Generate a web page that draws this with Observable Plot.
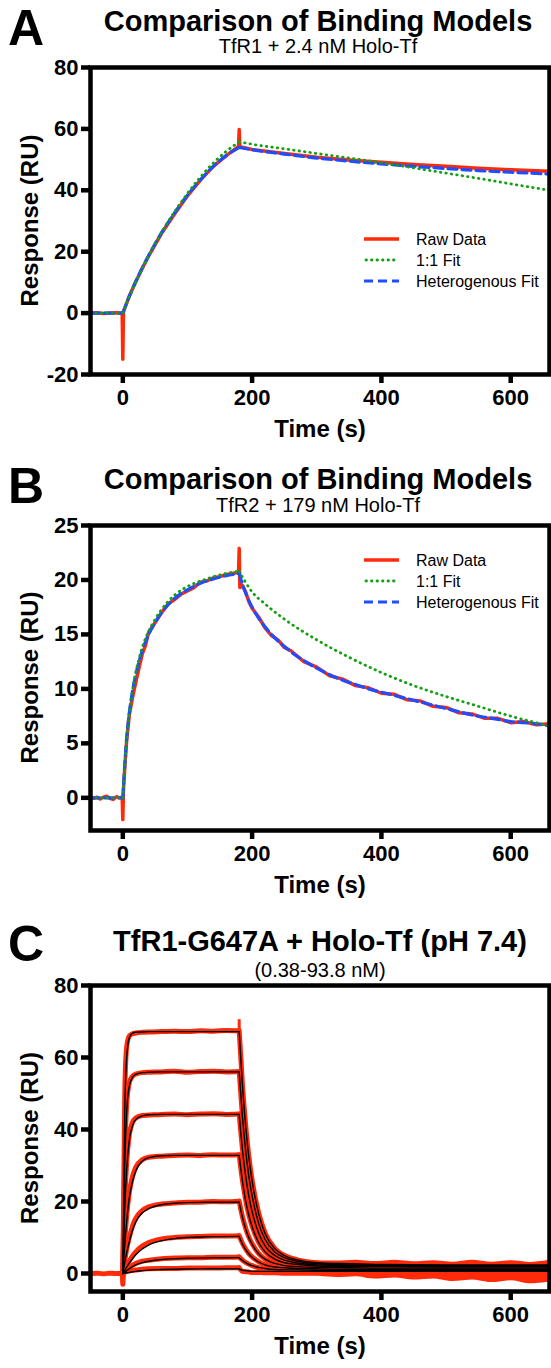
<!DOCTYPE html>
<html><head><meta charset="utf-8">
<script src="https://cdn.jsdelivr.net/npm/d3@7"></script>
<script src="https://cdn.jsdelivr.net/npm/@observablehq/plot@0.6"></script>
<style>
html,body{margin:0;padding:0;background:#fff;}
#root{position:relative;width:551px;height:1368px;overflow:hidden;font-family:"Liberation Sans",Arial,Helvetica,sans-serif;}
#overlay{position:absolute;left:0;top:0;pointer-events:none;}
</style></head><body><div id="root"></div>
<script>
// ---------- Panel A : TfR1 + 2.4 nM Holo-Tf ----------
const rawAT = [-50,-40,-30,-20,-10,-1,0,1,10,20,30,40,50,60,80,100,120,140,160,179,180,181,200,250,300,350,400,450,500,550,600,660];
const rawAV = [0,0.1,-0.1,0,0.1,0,-15,0.5,5.5,10.2,14.5,18.6,22.3,26,32.3,38.2,43.3,47.8,51.3,54.3,59.8,54.2,53.3,52.0,50.8,49.9,49.1,48.4,47.8,47.2,46.7,46.2];
const fitAT = [-50,0,10,20,30,40,50,60,80,100,120,140,160,180,200,250,300,350,400,450,500,550,600,660];
const hetAV = [0,0,5.5,10.3,14.7,18.8,22.6,26.2,32.6,38.4,43.4,47.8,51.3,54.0,53.2,51.8,50.5,49.5,48.6,47.8,47.1,46.4,45.9,45.3];
const oneAV = [0,0,5.3,10.1,14.5,18.7,22.6,26.3,33.0,39.0,44.3,48.9,52.7,55.8,55.0,53.5,52.0,50.5,49.0,47.3,45.6,43.9,42.1,40.0];
const yTicksA = [-20,0,20,40,60,80];

// ---------- Panel B : TfR2 + 179 nM Holo-Tf ----------
const rawBT = [-50,-45,-40,-35,-30,-25,-20,-15,-10,-5,-1,0,1,3,6,10,15,20,25,30,35,40,50,60,70,80,90,100,110,120,130,140,150,160,170,179,180,181,185,190,195,200,210,220,230,240,250,260,280,300,320,340,360,380,400,420,440,460,480,500,520,540,560,580,600,620,640,660];
const rawBV = [0.05,-0.05,0.05,-0.1,0.05,0.15,-0.05,-0.15,0.1,0,0.05,-2.0,0.8,2.8,5.3,7.6,9.2,10.6,11.9,13.2,14.0,15.2,16.1,17.0,17.8,18.2,18.7,19.0,19.3,19.8,19.9,20.2,20.3,20.5,20.6,20.7,22.9,19.3,19.5,18.9,18.0,17.4,16.6,15.6,14.9,14.5,13.8,13.5,12.5,12.0,11.2,10.9,10.3,10.1,9.6,9.5,9.0,8.9,8.4,8.3,7.8,7.7,7.3,7.3,6.9,7.0,6.7,6.8];
const hetBT = [-50,0,3,6,10,15,20,30,40,50,60,80,100,120,140,160,180,185,190,195,200,210,220,230,240,250,260,280,300,320,340,360,380,400,420,440,460,480,500,520,540,560,580,600,620,640,660];
const hetBV = [0,0,3.0,5.5,7.8,9.8,11.3,13.5,15.0,16.1,17.0,18.3,19.1,19.7,20.1,20.4,20.6,19.6,18.8,18.1,17.5,16.5,15.7,15.0,14.4,13.9,13.4,12.6,11.9,11.3,10.8,10.4,10.0,9.7,9.4,9.1,8.8,8.5,8.2,7.9,7.6,7.4,7.2,7.0,6.9,6.8,6.6];
const oneBT = [-50,0,3,6,10,15,20,30,40,50,60,80,100,120,140,160,180,200,220,250,300,350,400,450,500,550,600,660];
const oneBV = [0,0,2.9,5.4,7.7,9.9,11.5,13.8,15.3,16.4,17.3,18.6,19.4,19.9,20.3,20.6,20.8,18.9,17.8,16.4,14.5,12.9,11.5,10.3,9.3,8.4,7.5,6.6];
const yTicksB = [0,5,10,15,20,25];

// ---------- Panel C : TfR1-G647A + Holo-Tf (0.38-93.8 nM), 8 concentrations ----------
const cBaseT = [-50,-40,-30,-20,-10,-1,0,1];
const cBaseV = [0,0.1,-0.1,0.1,0,0,-3,0];
const cFitAssocT = [0,3,6,10,15,20,30,40,60,80,100,130,180];
const cFitAssoc = [
  [0,45,60,65.5,66.8,67.0,67.1,67.2,67.2,67.2,67.2,67.2,67.2],
  [0,30,45,52,54.5,55.3,55.8,55.9,56,56,56,56,56],
  [0,18,29,37,41,42.8,43.8,44.1,44.2,44.2,44.2,44.2,44.2],
  [0,8,14.5,21,25.5,28.5,31.2,32.2,32.7,32.8,32.8,32.8,32.8],
  [0,3,5.8,8.8,12,14.3,16.8,18.0,19.1,19.5,19.7,19.8,19.8],
  [0,0.9,1.8,2.9,4.1,5.2,6.8,7.9,9.1,9.7,10.0,10.2,10.3],
  [0,0.4,0.8,1.3,1.9,2.4,3.0,3.4,3.9,4.1,4.25,4.35,4.4],
  [0,0.1,0.2,0.3,0.45,0.6,0.8,0.95,1.1,1.2,1.25,1.3,1.3]
];
const cFitDissT = [180,185,190,195,200,210,220,235,250,270,300,350,400,500,660];
const cFitDiss = [
  [67.2,52.3,41.0,32.2,25.7,16.7,11.1,6.9,5.0,3.8,3.0,2.7,2.5,2.4,2.4],
  [56,43.6,34.2,26.9,21.6,14.0,9.5,6.0,4.4,3.4,2.7,2.4,2.3,2.2,2.2],
  [44.2,34.5,27.1,21.4,17.2,11.3,7.7,5.0,3.7,2.9,2.4,2.2,2.1,2.0,2.0],
  [32.8,25.7,20.2,16.1,13.0,8.6,6.0,4.0,3.0,2.5,2.1,1.9,1.9,1.8,1.8],
  [19.8,15.6,12.4,9.9,8.1,5.5,4.0,2.8,2.2,1.9,1.7,1.6,1.5,1.5,1.5],
  [10.3,8.2,6.6,5.4,4.5,3.2,2.4,1.8,1.6,1.4,1.3,1.2,1.2,1.2,1.2],
  [4.4,3.6,3.0,2.5,2.2,1.7,1.4,1.1,1.0,1.0,0.9,0.9,0.9,0.9,0.9],
  [1.3,0.9,0.8,0.7,0.6,0.6,0.6,0.6,0.6,0.6,0.6,0.6,0.6,0.6,0.6]
];
const cRawAssocT = [0,3,6,10,15,20,30,40,60,80,100,120,140,160,179];
const cRawAssoc = [
  [0,50,63,66,66.6,66.8,67.0,67.1,67.2,67.3,67.2,67.4,67.3,67.5,67.4],
  [0,33,47,53,54.8,55.4,55.8,55.9,56.0,56.2,55.9,56.1,56.2,56.0,56.1],
  [0,20,31,38.5,42,43.2,43.9,44.0,44.2,44.3,44.1,44.3,44.4,44.2,44.3],
  [0,9,16,22.5,27,29.5,31.6,32.3,32.6,32.8,32.9,32.8,33.0,32.9,33.0],
  [0,3.6,6.8,10,13.2,15.3,17.5,18.5,19.3,19.6,19.8,19.8,20.0,19.9,20.1],
  [0,1.2,2.3,3.5,4.9,6.0,7.6,8.6,9.6,10.0,10.2,10.3,10.4,10.4,10.5],
  [0,0.6,1.1,1.7,2.3,2.8,3.4,3.7,4.1,4.3,4.4,4.4,4.5,4.5,4.6],
  [0,0.3,0.5,0.7,0.9,1.0,1.2,1.3,1.4,1.4,1.5,1.5,1.5,1.6,1.6]
];
const cRawDissT = [180,185,190,195,200,210,220,235,250,270,300];
const cRawDiss = [
  [67.5,52.5,41.2,32.4,25.9,16.9,11.3,7.0,5.0,3.8,3.0],
  [56.1,43.8,34.4,27.1,21.8,14.2,9.6,6.1,4.4,3.4,2.7],
  [44.3,34.7,27.3,21.6,17.4,11.5,7.8,5.0,3.7,2.9,2.4],
  [33.0,25.9,20.4,16.3,13.2,8.7,6.1,4.0,3.0,2.4,2.0],
  [20.1,15.8,12.6,10.1,8.3,5.6,4.0,2.8,2.2,1.8,1.5],
  [10.5,8.4,6.8,5.5,4.6,3.3,2.4,1.7,1.4,1.2,1.0],
  [4.6,3.7,3.1,2.6,2.2,1.6,1.2,0.9,0.7,0.6,0.5],
  [1.6,0.6,0.5,0.4,0.3,0.3,0.2,0.2,0.1,0.1,0.1]
];
const cTailT = [300,330,360,390,420,450,480,510,540,570,600,630,660];
const cTail = [
  [3.0,2.9,3.1,2.8,3.1,2.7,3.0,2.6,3.1,2.6,3.0,2.5,3.1],
  [2.7,2.5,2.7,2.3,2.6,2.2,2.6,2.1,2.5,2.0,2.6,1.9,2.4],
  [2.4,2.1,2.3,1.9,2.2,1.7,2.1,1.6,2.0,1.5,1.9,1.3,1.8],
  [2.0,1.8,1.6,1.7,1.3,1.6,1.1,1.5,0.9,1.4,0.7,1.2,0.5],
  [1.5,1.2,1.3,0.9,1.1,0.6,1.0,0.3,0.8,0.1,0.6,-0.2,0.4],
  [1.0,0.6,0.8,0.2,0.5,-0.1,0.3,-0.5,0.0,-0.8,-0.2,-1.1,-0.4],
  [0.5,0.1,0.3,-0.3,0.0,-0.7,-0.2,-0.9,-0.5,-1.3,-0.6,-1.6,-1.0],
  [0.1,-0.3,-0.1,-0.7,-0.4,-1.0,-0.7,-1.4,-1.0,-1.7,-1.2,-2.0,-1.5]
];
const cSpikeT = [180];
const cSpikeLo = [66.5];
const cSpikeHi = [70.5];
const yTicksC = [0,20,40,60,80];

const xTicks = [0,200,400,600];
const legendLabels = ["Raw Data","1:1 Fit","Heterogenous Fit"];

// ---------- styling ----------
const RED = "#ff2a0a", GREEN = "#13a013", BLUE = "#1f4dff";
const FONT = '"Liberation Sans", Arial, Helvetica, sans-serif';
const W = 551, ML = 90, MR = 2, MT = 12, MB = 20;
const xDomain = [-50, 660];
const root = document.getElementById("root");

function pts(T, V, z) { return T.map((t, i) => ({t, v: V[i], z})); }
// split a fitted series into baseline / association / dissociation pieces (smooth curves, sharp corners)
function segs(T, V) {
  const bounds = [[-Infinity, 0], [0, 180], [180, Infinity]];
  const out = [];
  bounds.forEach(([lo, hi], k) => T.forEach((t, i) => { if (t >= lo && t <= hi) out.push({t, v: V[i], z: k}); }));
  return out;
}
const fmt = d => (d < 0 ? "-" + Math.abs(d) : String(d));

function panel(yDomain, yTicks, plotTop, plotBottom, marks) {
  const h = plotBottom - plotTop + MT + MB;
  const svg = Plot.plot({
    width: W, height: h,
    marginLeft: ML, marginRight: MR, marginTop: MT, marginBottom: MB,
    x: {domain: xDomain},
    y: {domain: yDomain},
    style: {fontFamily: FONT, fontSize: "22px", fontWeight: "bold", overflow: "visible", background: "transparent", color: "#000"},
    marks: [
      ...marks,
      Plot.frame({strokeWidth: 4.5}),
      Plot.axisY({ticks: yTicks, tickSize: 9, tickPadding: 3, strokeWidth: 4.5, tickFormat: fmt, label: null, fontWeight: "bold"}),
      Plot.axisX({ticks: xTicks, tickSize: 9, tickPadding: 6, strokeWidth: 4.5, tickFormat: fmt, label: null, fontWeight: "bold"})
    ]
  });
  svg.style.position = "absolute";
  svg.style.left = "0px";
  svg.style.top = (plotTop - MT) + "px";
  root.appendChild(svg);
}

const A = {top: 67, bottom: 374};
const B = {top: 525, bottom: 830};
const C = {top: 985, bottom: 1291};

function bindMarks(raw, het, one) {
  return [
    Plot.line(raw, {x: "t", y: "v", stroke: RED, strokeWidth: 3.5, strokeLinejoin: "round"}),
    Plot.line(het, {x: "t", y: "v", z: "z", stroke: BLUE, strokeWidth: 3.2, strokeDasharray: "9,5", curve: "monotone-x"}),
    Plot.line(one, {x: "t", y: "v", z: "z", stroke: GREEN, strokeWidth: 2.8, strokeDasharray: "0.5,5", strokeLinecap: "round", curve: "monotone-x"})
  ];
}

panel([-20, 80], yTicksA, A.top, A.bottom,
  bindMarks(pts(rawAT, rawAV, 0), segs(fitAT, hetAV), segs(fitAT, oneAV)));
panel([-3, 25], yTicksB, B.top, B.bottom,
  bindMarks(pts(rawBT, rawBV, 0), segs(hetBT, hetBV), segs(oneBT, oneBV)));

const cRawRows = [], cFitRows = [];
cRawAssoc.forEach((V, i) => cRawRows.push(...pts(cRawAssocT, V, "a" + i)));
cRawDiss.forEach((V, i) => cRawRows.push(...pts(cRawDissT, V, "d" + i)));
cTail.forEach((V, i) => cRawRows.push(...pts(cTailT, V, "t" + i)));
cFitAssoc.forEach((V, i) => cFitRows.push(...pts(cFitAssocT, V, "a" + i)));
cFitDiss.forEach((V, i) => cFitRows.push(...pts(cFitDissT, V, "d" + i)));
const cSpikes = cSpikeT.map((t, i) => ({t, lo: cSpikeLo[i], hi: cSpikeHi[i]}));

panel([-5, 80], yTicksC, C.top, C.bottom, [
  Plot.line(pts(cBaseT, cBaseV, 0), {x: "t", y: "v", stroke: RED, strokeWidth: 5}),
  Plot.line(cRawRows, {x: "t", y: "v", z: "z", stroke: RED, strokeWidth: 5, strokeLinejoin: "round", curve: "monotone-x"}),
  Plot.ruleX(cSpikes, {x: "t", y1: "lo", y2: "hi", stroke: RED, strokeWidth: 3}),
  Plot.line(cFitRows, {x: "t", y: "v", z: "z", stroke: "#000", strokeWidth: 1.4, curve: "monotone-x"})
]);

// ---------- titles, axis titles, legends ----------
const cx = 320;
function legend(y0) {
  const rows = [
    `<line x1="364" x2="399" y1="${y0}" y2="${y0}" stroke="${RED}" stroke-width="3.5"/>`,
    `<line x1="366" x2="399" y1="${y0 + 21}" y2="${y0 + 21}" stroke="${GREEN}" stroke-width="2.8" stroke-dasharray="0.5,5" stroke-linecap="round"/>`,
    `<line x1="364" x2="399" y1="${y0 + 42}" y2="${y0 + 42}" stroke="${BLUE}" stroke-width="3.2" stroke-dasharray="9,5"/>`
  ];
  legendLabels.forEach((s, i) => rows.push(`<text x="416" y="${y0 + 21 * i + 5.5}" font-size="16">${s}</text>`));
  return rows.join("");
}
function ylab(plot) {
  return `<text transform="translate(38,${(plot.top + plot.bottom) / 2}) rotate(-90)" text-anchor="middle" font-size="24" font-weight="bold">Response (RU)</text>`;
}
function xlab(plot) {
  return `<text x="${cx}" y="${plot.bottom + 63}" text-anchor="middle" font-size="24" font-weight="bold">Time (s)</text>`;
}
const ov = `
<svg id="overlay" width="551" height="1368" xmlns="http://www.w3.org/2000/svg" font-family='${FONT}' fill="#000">
  <text x="8" y="45" font-size="50" font-weight="bold">A</text>
  <text x="318" y="31" text-anchor="middle" font-size="29" font-weight="bold">Comparison of Binding Models</text>
  <text x="318" y="53" text-anchor="middle" font-size="20">TfR1 + 2.4 nM Holo-Tf</text>
  ${ylab(A)}${xlab(A)}${legend(239)}
  <text x="8" y="503" font-size="50" font-weight="bold">B</text>
  <text x="318" y="489" text-anchor="middle" font-size="29" font-weight="bold">Comparison of Binding Models</text>
  <text x="318" y="512" text-anchor="middle" font-size="20">TfR2 + 179 nM Holo-Tf</text>
  ${ylab(B)}${xlab(B)}${legend(560)}
  <text x="8" y="961" font-size="50" font-weight="bold">C</text>
  <text x="320" y="951" text-anchor="middle" font-size="29" font-weight="bold">TfR1-G647A + Holo-Tf (pH 7.4)</text>
  <text x="320" y="977" text-anchor="middle" font-size="20">(0.38-93.8 nM)</text>
  ${ylab(C)}${xlab(C)}
</svg>`;
root.insertAdjacentHTML("beforeend", ov);
</script>
</body></html>
